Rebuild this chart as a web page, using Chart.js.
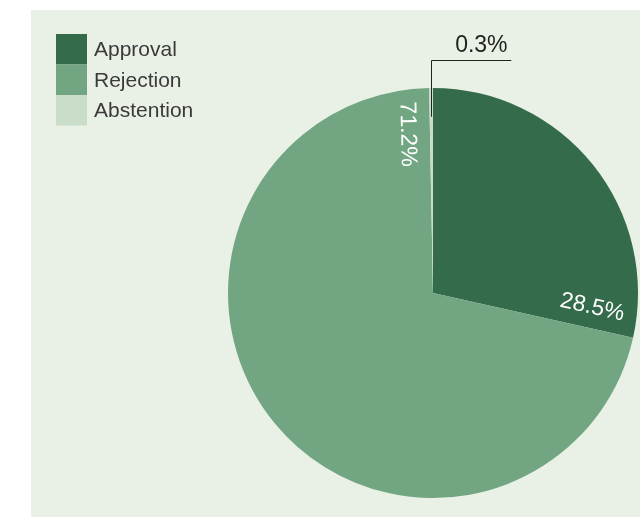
<!DOCTYPE html>
<html>
<head>
<meta charset="utf-8">
<script src="https://cdn.jsdelivr.net/npm/chart.js@4/dist/chart.umd.min.js"></script>
<style>
  html, body { margin: 0; padding: 0; background: #ffffff; }
  canvas { display: block; }
</style>
</head>
<body>
<canvas id="vote" width="640" height="518"></canvas>
<script>
// Vote outcome shares
const categories = ['Approval', 'Rejection', 'Abstention'];
const shares = [28.5, 71.2, 0.3];
const shareLabels = ['28.5%', '71.2%', '0.3%'];
const sliceColors = ['#346b4b', '#72a683', '#c9ddc9'];

const FONT = '"Liberation Sans", Arial, sans-serif';

// Pale green panel behind the chart
const panelPlugin = {
  id: 'panel',
  beforeDraw(chart) {
    const ctx = chart.ctx;
    ctx.save();
    ctx.fillStyle = '#e9f0e5';
    ctx.fillRect(31, 10, 609, 507);
    ctx.restore();
  }
};

// Stacked colour-swatch legend in the top-left corner
const legendPlugin = {
  id: 'swatchLegend',
  afterDraw(chart) {
    const ctx = chart.ctx;
    const labels = chart.data.labels;
    const cols = chart.data.datasets[0].backgroundColor;
    const boxX = 56, boxY = 34, boxW = 31, boxH = 30.5;
    ctx.save();
    ctx.font = '21px ' + FONT;
    ctx.textBaseline = 'middle';
    ctx.textAlign = 'left';
    labels.forEach((lab, i) => {
      ctx.fillStyle = cols[i];
      ctx.fillRect(boxX, boxY + i * boxH, boxW, boxH);
      ctx.fillStyle = '#3a3a3a';
      ctx.fillText(lab, 94, boxY + i * boxH + boxH / 2 + 1);
    });
    ctx.restore();
  }
};

// Percentage labels: two inside along slice edges, the smallest with a leader line
const sliceLabelPlugin = {
  id: 'sliceLabels',
  afterDatasetsDraw(chart) {
    const ctx = chart.ctx;
    const meta = chart.getDatasetMeta(0);
    ctx.save();
    ctx.font = '23px ' + FONT;
    meta.data.forEach((arc, i) => {
      const p = arc.getProps(['x', 'y', 'startAngle', 'endAngle', 'outerRadius'], true);
      const R = p.outerRadius;
      const text = chart.data.datasets[0].labels[i];
      if (i === 0) {
        const a = p.endAngle - 0.13;
        const r = 0.78 * R;
        ctx.save();
        ctx.translate(p.x + r * Math.cos(a), p.y + r * Math.sin(a));
        ctx.rotate(p.endAngle);
        ctx.fillStyle = '#ffffff';
        ctx.textAlign = 'center';
        ctx.textBaseline = 'middle';
        ctx.fillText(text, 0, 0);
        ctx.restore();
      } else if (i === 1) {
        const a = p.endAngle - 0.14;
        const r = 0.785 * R;
        ctx.save();
        ctx.translate(p.x + r * Math.cos(a), p.y + r * Math.sin(a));
        ctx.rotate(p.endAngle - Math.PI);
        ctx.fillStyle = '#ffffff';
        ctx.textAlign = 'center';
        ctx.textBaseline = 'middle';
        ctx.fillText(text, 0, 0);
        ctx.restore();
      } else {
        const a = (p.startAngle + p.endAngle) / 2;
        const r = 0.86 * R;
        const x0 = p.x + r * Math.cos(a);
        const y0 = p.y + r * Math.sin(a);
        const yTop = p.y - R - 28;
        const x1 = x0 + 80;
        ctx.strokeStyle = '#222222';
        ctx.lineWidth = 1;
        ctx.beginPath();
        ctx.moveTo(Math.round(x0) + 0.5, y0);
        ctx.lineTo(Math.round(x0) + 0.5, Math.round(yTop) + 0.5);
        ctx.lineTo(x1, Math.round(yTop) + 0.5);
        ctx.stroke();
        ctx.fillStyle = '#222222';
        ctx.textAlign = 'center';
        ctx.textBaseline = 'alphabetic';
        ctx.fillText(text, x0 + 50, yTop - 8);
      }
    });
    ctx.restore();
  }
};

new Chart(document.getElementById('vote'), {
  type: 'pie',
  data: {
    labels: categories,
    datasets: [{
      data: shares,
      labels: shareLabels,
      backgroundColor: sliceColors,
      borderWidth: 0
    }]
  },
  options: {
    responsive: false,
    animation: false,
    layout: { padding: { left: 228, right: 2, top: 88, bottom: 20 } },
    plugins: {
      legend: { display: false },
      tooltip: { enabled: false }
    }
  },
  plugins: [panelPlugin, legendPlugin, sliceLabelPlugin]
});
</script>
</body>
</html>
